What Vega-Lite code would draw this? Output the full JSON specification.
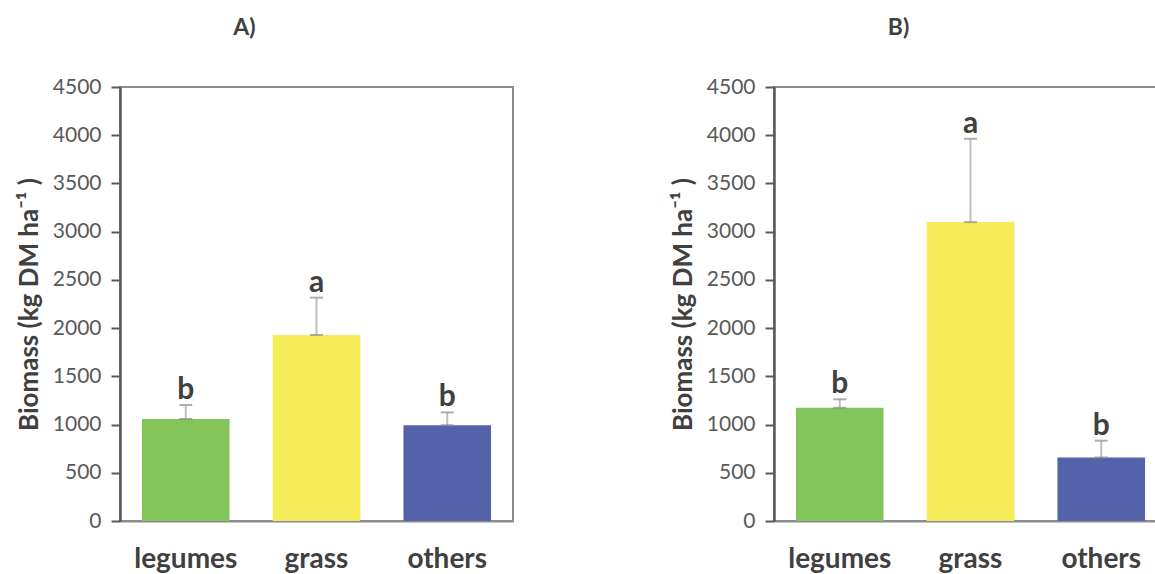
{
  "$schema": "https://vega.github.io/schema/vega-lite/v6.json",
  "padding": {"left": 15, "top": 16, "right": 0, "bottom": 0},
  "background": "white",
  "data": {"values": [
    {"panel": "A", "cat": "legumes", "value": 1058, "upper": 1203, "letter": "b"},
    {"panel": "A", "cat": "grass", "value": 1929, "upper": 2316, "letter": "a"},
    {"panel": "A", "cat": "others", "value": 993, "upper": 1126, "letter": "b"},
    {"panel": "B", "cat": "legumes", "value": 1174, "upper": 1262, "letter": "b"},
    {"panel": "B", "cat": "grass", "value": 3099, "upper": 3963, "letter": "a"},
    {"panel": "B", "cat": "others", "value": 659, "upper": 833, "letter": "b"}
  ]},
  "spacing": 155,
  "config": {
    "font": "Lato",
    "view": {"stroke": "#8c8c8c", "strokeWidth": 2},
    "axisY": {"grid": false},
    "axisX": {"grid": false}
  },
  "hconcat": [
    {
      "width": 393, "height": 434,
      "title": {"text": "A)", "dx": -72, "fontSize": 23, "fontWeight": "bold", "color": "#404040", "offset": 36, "font": "Lato"},
      "transform": [{"filter": "datum.panel == 'A'"}],
      "encoding": {
        "x": {"field": "cat", "type": "nominal", "sort": ["legumes", "grass", "others"],
          "scale": {"paddingInner": 0.33, "paddingOuter": 0.168},
          "axis": {"title": null, "labelAngle": 0, "labelFontSize": 28, "labelFontWeight": "bold", "labelColor": "#404040", "labelPadding": 24, "ticks": false, "domainColor": "#8c8c8c", "domainWidth": 2}}
      },
      "layer": [
        {"mark": {"type": "bar"},
         "encoding": {
           "y": {"field": "value", "type": "quantitative", "scale": {"domain": [0, 4500]},
             "axis": {"title": "Biomass (kg DM ha⁻¹ )", "titleFontSize": 26, "titleFontWeight": "bold", "titleColor": "#404040", "titlePadding": 10,
               "values": [0, 500, 1000, 1500, 2000, 2500, 3000, 3500, 4000, 4500], "format": "d", "labelFontSize": 21, "labelColor": "#595959", "labelPadding": 10,
               "tickSize": 9, "tickColor": "#595959", "tickWidth": 2, "domainColor": "#595959", "domainWidth": 2.5}},
           "color": {"field": "cat", "type": "nominal", "scale": {"domain": ["legumes", "grass", "others"], "range": ["#84c55b", "#f6ec59", "#5462aa"]}, "legend": null}
         }},
        {"mark": {"type": "rule", "color": "#bfbfbf", "strokeWidth": 2},
         "encoding": {"y": {"field": "value", "type": "quantitative"}, "y2": {"field": "upper"}}},
        {"mark": {"type": "tick", "color": "#8c8c8c", "size": 13, "thickness": 2},
         "encoding": {"y": {"field": "upper", "type": "quantitative"}}},
        {"mark": {"type": "tick", "color": "#8c8c8c", "size": 13, "thickness": 2},
         "encoding": {"y": {"field": "value", "type": "quantitative"}}},
        {"mark": {"type": "text", "fontSize": 30, "fontWeight": "bold", "color": "#404040", "baseline": "alphabetic", "dy": -6},
         "encoding": {"y": {"field": "upper", "type": "quantitative"}, "text": {"field": "letter"}}}
      ]
    },
    {
      "width": 393, "height": 434,
      "title": {"text": "B)", "dx": -72, "fontSize": 23, "fontWeight": "bold", "color": "#404040", "offset": 36, "font": "Lato"},
      "transform": [{"filter": "datum.panel == 'B'"}],
      "encoding": {
        "x": {"field": "cat", "type": "nominal", "sort": ["legumes", "grass", "others"],
          "scale": {"paddingInner": 0.33, "paddingOuter": 0.168},
          "axis": {"title": null, "labelAngle": 0, "labelFontSize": 28, "labelFontWeight": "bold", "labelColor": "#404040", "labelPadding": 24, "ticks": false, "domainColor": "#8c8c8c", "domainWidth": 2}}
      },
      "layer": [
        {"mark": {"type": "bar"},
         "encoding": {
           "y": {"field": "value", "type": "quantitative", "scale": {"domain": [0, 4500]},
             "axis": {"title": "Biomass (kg DM ha⁻¹ )", "titleFontSize": 26, "titleFontWeight": "bold", "titleColor": "#404040", "titlePadding": 10,
               "values": [0, 500, 1000, 1500, 2000, 2500, 3000, 3500, 4000, 4500], "format": "d", "labelFontSize": 21, "labelColor": "#595959", "labelPadding": 10,
               "tickSize": 9, "tickColor": "#595959", "tickWidth": 2, "domainColor": "#595959", "domainWidth": 2.5}},
           "color": {"field": "cat", "type": "nominal", "scale": {"domain": ["legumes", "grass", "others"], "range": ["#84c55b", "#f6ec59", "#5462aa"]}, "legend": null}
         }},
        {"mark": {"type": "rule", "color": "#bfbfbf", "strokeWidth": 2},
         "encoding": {"y": {"field": "value", "type": "quantitative"}, "y2": {"field": "upper"}}},
        {"mark": {"type": "tick", "color": "#8c8c8c", "size": 13, "thickness": 2},
         "encoding": {"y": {"field": "upper", "type": "quantitative"}}},
        {"mark": {"type": "tick", "color": "#8c8c8c", "size": 13, "thickness": 2},
         "encoding": {"y": {"field": "value", "type": "quantitative"}}},
        {"mark": {"type": "text", "fontSize": 30, "fontWeight": "bold", "color": "#404040", "baseline": "alphabetic", "dy": -6},
         "encoding": {"y": {"field": "upper", "type": "quantitative"}, "text": {"field": "letter"}}}
      ]
    }
  ]
}
